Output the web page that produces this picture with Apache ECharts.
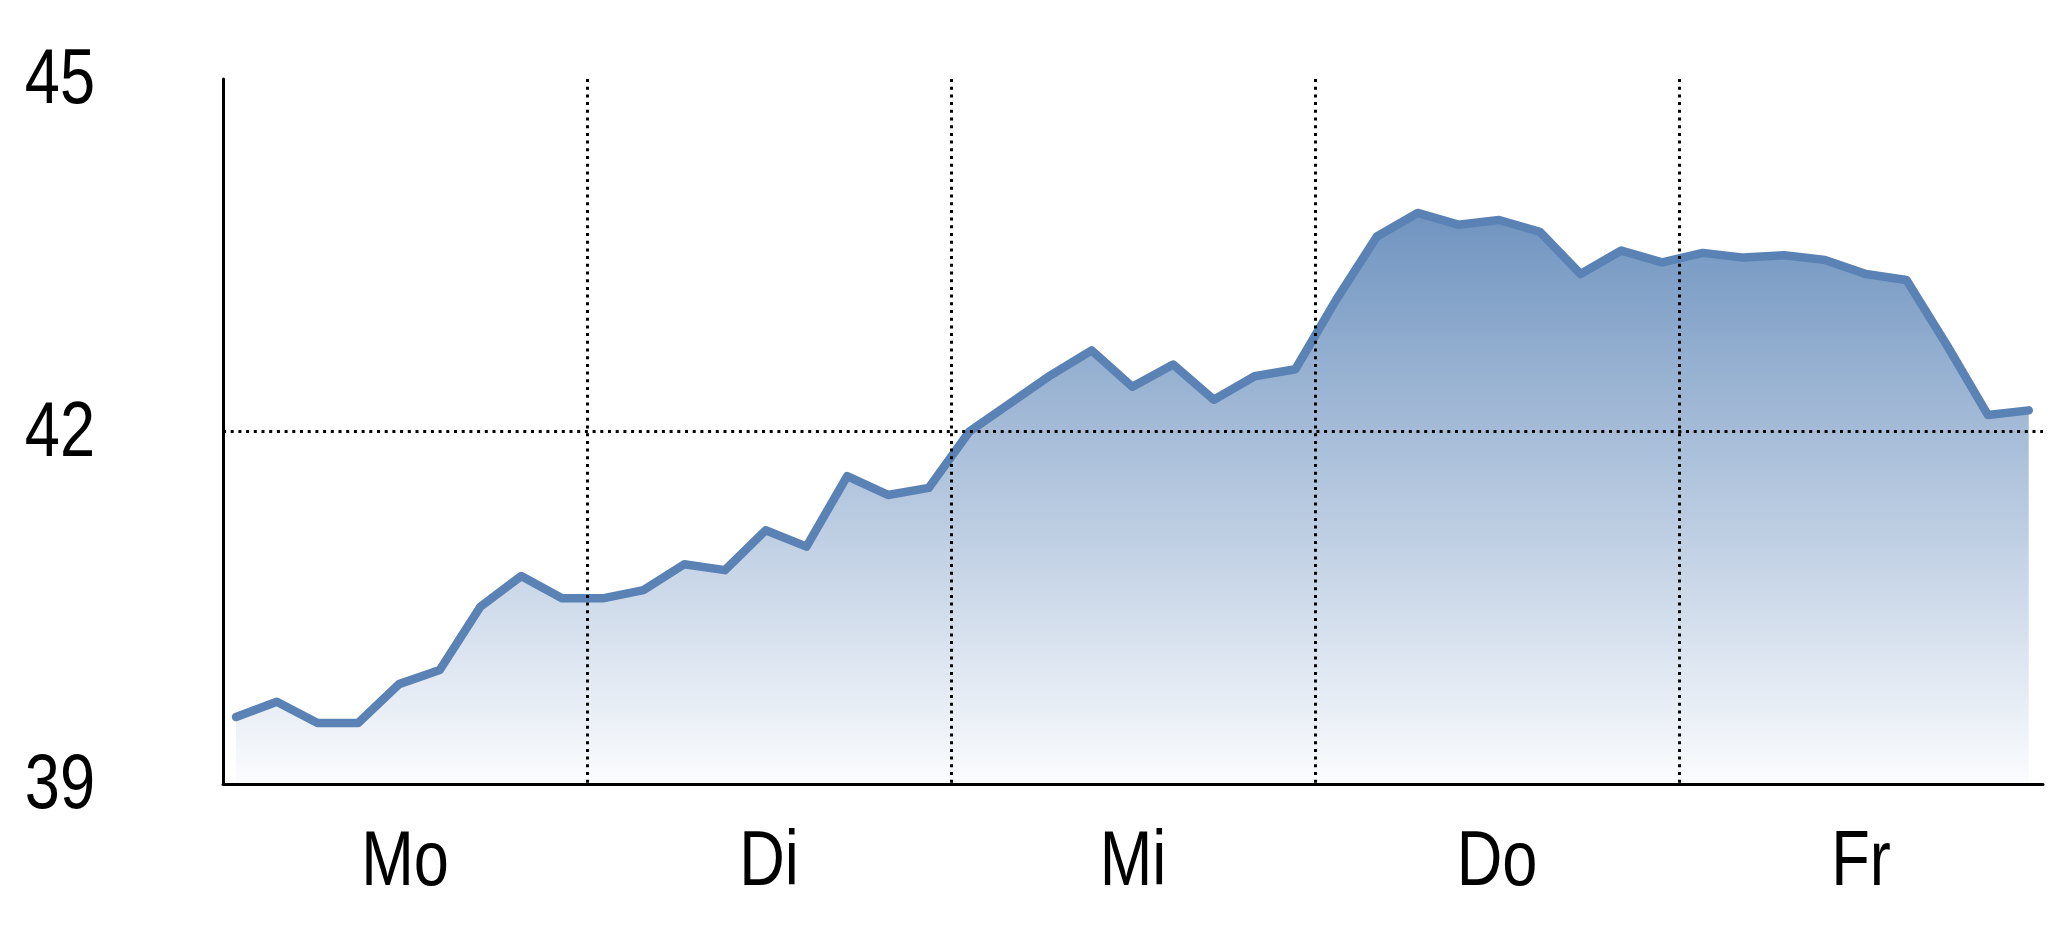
<!DOCTYPE html>
<html>
<head>
<meta charset="utf-8">
<script src="https://cdn.jsdelivr.net/npm/echarts@6/dist/echarts.min.js"></script>
<style>
html,body{margin:0;padding:0;background:#fff;}
#chart{width:2048px;height:937px;}
</style>
</head>
<body>
<div id="chart"></div>
<script>
const days = ['Mo', 'Di', 'Mi', 'Do', 'Fr'];
const yTicks = [39, 42, 45];
const values = [
  39.57, 39.70, 39.52, 39.52, 39.85, 39.97, 40.51, 40.77, 40.58,
  40.58, 40.65, 40.87, 40.82, 41.16, 41.02, 41.62, 41.46, 41.52,
  42.00, 42.24, 42.48, 42.69, 42.38, 42.57, 42.27, 42.47, 42.53,
  43.12, 43.66, 43.86, 43.76, 43.80, 43.70, 43.34, 43.54, 43.44,
  43.52, 43.48, 43.50, 43.46, 43.34, 43.29, 42.73, 42.14, 42.18
];

// Narrow sans look (Arial Narrow–like): Liberation Sans compressed horizontally
const FONT = '"Liberation Sans", Arial, sans-serif';
const FONT_SIZE = 77;
const NARROW = 0.82;
const dotted = { color: '#000', width: 3, type: [3, 4.7] };

const chart = echarts.init(document.getElementById('chart'), null, { renderer: 'canvas' });
chart.setOption({
  animation: false,
  backgroundColor: '#fff',
  grid: { left: 223, right: 5, top: 79, bottom: 153, containLabel: false },
  xAxis: [
    {
      type: 'category',
      data: days,
      boundaryGap: true,
      z: 10,
      axisLine: { show: true, lineStyle: { color: '#000', width: 3 } },
      axisTick: { show: false },
      axisLabel: { show: false },
      splitLine: { show: true, showMinLine: false, showMaxLine: false, lineStyle: dotted }
    },
    {
      type: 'value',
      min: -0.32,
      max: values.length - 1 + 0.35,
      show: false,
      position: 'bottom'
    }
  ],
  yAxis: {
    type: 'value',
    min: yTicks[0],
    max: yTicks[yTicks.length - 1],
    interval: yTicks[1] - yTicks[0],
    z: 10,
    axisLine: { show: true, onZero: false, lineStyle: { color: '#000', width: 3 } },
    axisTick: { show: false },
    axisLabel: { show: false },
    splitLine: { show: true, showMinLine: false, showMaxLine: false, lineStyle: dotted }
  },
  series: [{
    type: 'line',
    xAxisIndex: 1,
    data: values.map((v, i) => [i, v]),
    symbol: 'none',
    z: 2,
    lineStyle: { color: '#5a82b5', width: 8.5, cap: 'round', join: 'round' },
    areaStyle: {
      opacity: 1,
      color: {
        type: 'linear', x: 0, y: 0, x2: 0, y2: 1,
        colorStops: [
          { offset: 0, color: '#7094c0' },
          { offset: 1, color: '#fbfcfe' }
        ]
      }
    }
  }]
});

// Axis labels as narrow text, placed through the axes' own scales
const axisY = chart.convertToPixel({ yAxisIndex: 0 }, yTicks[0]);
const graphics = [];
yTicks.forEach(t => {
  const y = chart.convertToPixel({ yAxisIndex: 0 }, t);
  graphics.push({
    type: 'text', x: 95, y: y + 3, scaleX: NARROW, z: 20,
    style: { text: String(t), font: FONT_SIZE + 'px ' + FONT, fill: '#000', align: 'right', verticalAlign: 'middle' }
  });
});
days.forEach(d => {
  const x = chart.convertToPixel({ xAxisIndex: 0 }, d);
  graphics.push({
    type: 'text', x: x, y: axisY + 80, scaleX: NARROW, z: 20,
    style: { text: d, font: FONT_SIZE + 'px ' + FONT, fill: '#000', align: 'center', verticalAlign: 'middle' }
  });
});
chart.setOption({ graphic: graphics });
</script>
</body>
</html>
